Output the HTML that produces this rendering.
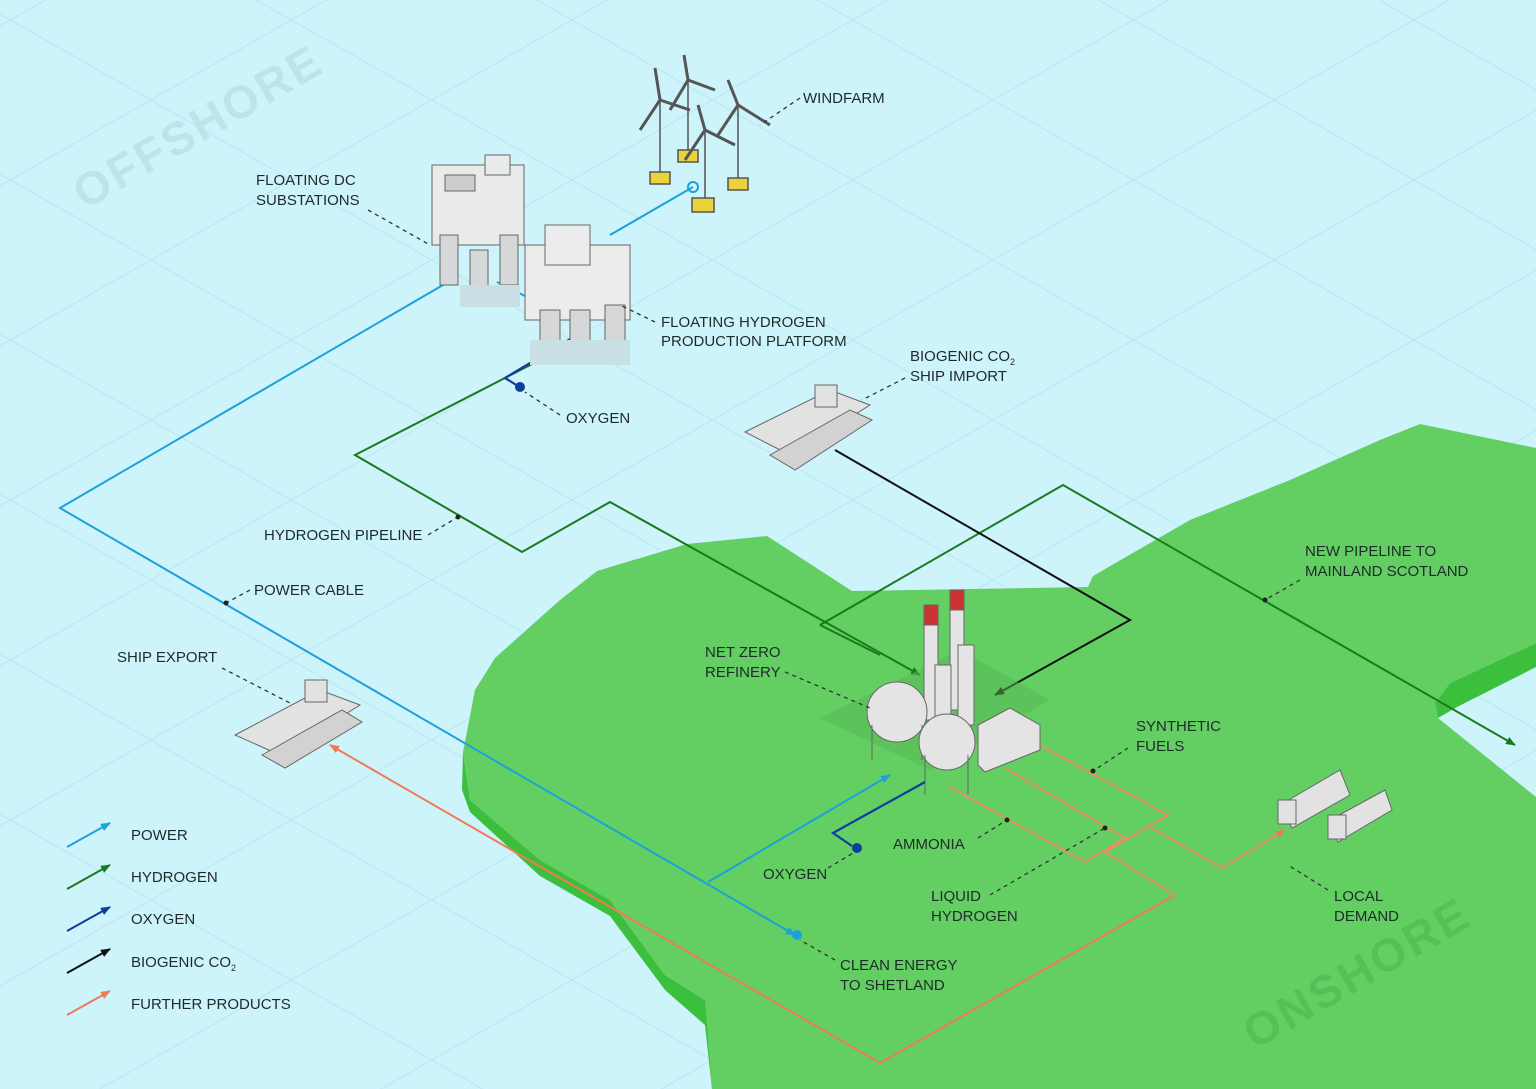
<!DOCTYPE html>
<html><head><meta charset="utf-8"><style>
html,body{margin:0;padding:0;background:#cdf3fb;width:1536px;height:1089px;overflow:hidden;}
svg{display:block;}
text{font-family:"Liberation Sans",sans-serif;font-size:15px;fill:#1f2a2a;}
.lead{stroke:#333;stroke-width:1.3;stroke-dasharray:4 4;fill:none;}
.dot{fill:#222;}
.wm{font-size:46px;fill:#bfe3ea;font-weight:bold;letter-spacing:3px;}
.wm2{font-size:46px;fill:#58bf58;font-weight:bold;letter-spacing:3px;}
</style></head><body>
<svg width="1536" height="1089" viewBox="0 0 1536 1089" xmlns="http://www.w3.org/2000/svg">
<defs>
<marker id="aB" markerWidth="10" markerHeight="8" refX="9" refY="4" orient="auto" markerUnits="userSpaceOnUse"><path d="M0,0 L10,4 L0,8 z" fill="#1ea0dc"/></marker>
<marker id="aG" markerWidth="10" markerHeight="8" refX="9" refY="4" orient="auto" markerUnits="userSpaceOnUse"><path d="M0,0 L10,4 L0,8 z" fill="#1b7a1b"/></marker>
<marker id="aK" markerWidth="10" markerHeight="8" refX="9" refY="4" orient="auto" markerUnits="userSpaceOnUse"><path d="M0,0 L10,4 L0,8 z" fill="#111"/></marker>
<marker id="aD" markerWidth="10" markerHeight="8" refX="9" refY="4" orient="auto" markerUnits="userSpaceOnUse"><path d="M0,0 L10,4 L0,8 z" fill="#0b3f9a"/></marker>
<marker id="aO" markerWidth="10" markerHeight="8" refX="9" refY="4" orient="auto" markerUnits="userSpaceOnUse"><path d="M0,0 L10,4 L0,8 z" fill="#f07a55"/></marker>
</defs>
<rect width="1536" height="1089" fill="#cdf3fb"/>
<g stroke="#bce9f1" stroke-width="1.2">
<line x1="-200" y1="-100" x2="1800" y2="1040"/><line x1="-200" y1="60" x2="1800" y2="1200"/>
<line x1="-200" y1="220" x2="1800" y2="1360"/><line x1="-200" y1="380" x2="1800" y2="1520"/>
<line x1="-200" y1="540" x2="1800" y2="1680"/><line x1="-200" y1="700" x2="1800" y2="1840"/>
<line x1="-200" y1="-260" x2="1800" y2="880"/><line x1="-200" y1="-420" x2="1800" y2="720"/>
<line x1="-200" y1="-580" x2="1800" y2="560"/><line x1="-200" y1="-740" x2="1800" y2="400"/>
<line x1="-200" y1="-900" x2="1800" y2="240"/>
<line x1="-200" y1="140" x2="1800" y2="-1000"/><line x1="-200" y1="300" x2="1800" y2="-840"/>
<line x1="-200" y1="460" x2="1800" y2="-680"/><line x1="-200" y1="620" x2="1800" y2="-520"/>
<line x1="-200" y1="780" x2="1800" y2="-360"/><line x1="-200" y1="940" x2="1800" y2="-200"/>
<line x1="-200" y1="1100" x2="1800" y2="-40"/><line x1="-200" y1="1260" x2="1800" y2="120"/>
<line x1="-200" y1="1420" x2="1800" y2="280"/><line x1="-200" y1="1580" x2="1800" y2="440"/>
<line x1="-200" y1="1740" x2="1800" y2="600"/><line x1="-200" y1="1900" x2="1800" y2="760"/>
</g>
<text class="wm" transform="translate(85,210) rotate(-30)">OFFSHORE</text>
<!-- land edges -->
<path d="M463,752 L462,790 L470,812 L540,876 L610,916 L665,990 L705,1025 L712,1089 L760,1089 L705,1000 L665,975 L610,900 L540,860 L470,800 Z" fill="#3cbf3c"/>
<path d="M1435,703 L1450,683 L1536,643 L1536,667 L1457,707 L1438,718 Z" fill="#3cbf3c"/>
<path d="M687,544 L767,536 L852,591 L1088,587 L1093,576 L1190,520 L1290,480 L1380,440 L1420,424 L1536,448 L1536,643 L1450,683 L1435,703 L1438,718 L1536,797 L1536,1089 L712,1089 L705,1000 L665,975 L610,900 L540,860 L470,800 L463,752 L475,690 L495,658 L560,600 L597,571 Z" fill="#63cf63"/>
<text class="wm2" transform="translate(1255,1050) rotate(-30)">ONSHORE</text>
<!-- connectors -->
<g fill="none" stroke-width="2">
<polyline points="693,187 610,235" stroke="#1ea0dc"/>
<polyline points="455,278 60,508 795,935" stroke="#1ea0dc" marker-end="url(#aB)"/>
<line x1="497" y1="282" x2="535" y2="301" stroke="#1ea0dc"/>
<polyline points="708,882 890,775" stroke="#1ea0dc" marker-end="url(#aB)"/>
<polyline points="575,342 355,455 522,552 610,502 920,675" stroke="#1b7a1b" marker-end="url(#aG)"/>
<polyline points="820,625 1063,485 1515,745" stroke="#1b7a1b" marker-end="url(#aG)"/>
<polyline points="820,625 880,655" stroke="#1b7a1b"/>
<polyline points="835,450 1130,620 995,695" stroke="#111" marker-end="url(#aK)"/>
<polyline points="572,338 505,378 518,386" stroke="#0b3f9a" stroke-width="2.2"/>
<polyline points="925,782 833,833 852,846" stroke="#0b3f9a" stroke-width="2.2"/>
<polyline points="1175,895 880,1063 330,745" stroke="#f07a55" marker-end="url(#aO)"/>
<polyline points="1040,745 1168,815 1105,852 1175,895" stroke="#e89060"/>
<polyline points="950,787 1085,862 1125,838 1005,768" stroke="#e89060"/>
<polyline points="1150,827 1222,868 1285,830" stroke="#e89060" marker-end="url(#aO)"/>
</g>
<circle cx="520" cy="387" r="5" fill="#0b3f9a"/>
<circle cx="857" cy="848" r="5" fill="#0b3f9a"/>
<circle cx="797" cy="935" r="5" fill="#1ea0dc"/>
<circle cx="693" cy="187" r="5" fill="none" stroke="#1ea0dc" stroke-width="2"/>
<!-- windfarm -->
<g stroke="#555" stroke-width="1.5" fill="#fff">
<g><line x1="660" y1="178" x2="660" y2="100"/><path d="M660,100 L640,130 M660,100 L690,110 M660,100 L655,68" stroke="#555" stroke-width="3"/><rect x="650" y="172" width="20" height="12" fill="#e8d43a"/></g>
<g><line x1="688" y1="155" x2="688" y2="80"/><path d="M688,80 L670,110 M688,80 L715,90 M688,80 L684,55" stroke-width="3"/><rect x="678" y="150" width="20" height="12" fill="#e8d43a"/></g>
<g><line x1="738" y1="185" x2="738" y2="105"/><path d="M738,105 L718,135 M738,105 L770,125 M738,105 L728,80" stroke-width="3"/><rect x="728" y="178" width="20" height="12" fill="#e8d43a"/></g>
<g><line x1="705" y1="205" x2="705" y2="130"/><path d="M705,130 L685,160 M705,130 L735,145 M705,130 L698,105" stroke-width="3"/><rect x="692" y="198" width="22" height="14" fill="#e8d43a"/></g>
</g>
<!-- substation -->
<g stroke="#666" stroke-width="1" fill="#e9eaea">
<rect x="432" y="165" width="92" height="80"/>
<rect x="440" y="235" width="18" height="50" fill="#d5d7d8"/><rect x="500" y="235" width="18" height="50" fill="#d5d7d8"/>
<rect x="470" y="250" width="18" height="55" fill="#d5d7d8"/>
<rect x="445" y="175" width="30" height="16" fill="#ccc"/>
<rect x="485" y="155" width="25" height="20"/>
<rect x="460" y="285" width="60" height="22" fill="#c8dfe4" stroke="none"/>
</g>
<!-- hydrogen platform -->
<g stroke="#666" stroke-width="1" fill="#ececec">
<rect x="525" y="245" width="105" height="75"/>
<rect x="545" y="225" width="45" height="40"/>
<rect x="540" y="310" width="20" height="40" fill="#d5d7d8"/><rect x="570" y="310" width="20" height="45" fill="#d5d7d8"/><rect x="605" y="305" width="20" height="40" fill="#d5d7d8"/>
<rect x="530" y="340" width="100" height="25" fill="#c8dfe4" stroke="none"/>
</g>
<!-- ships -->
<g stroke="#666" stroke-width="1" fill="#e2e2e2">
<path d="M745,432 L830,390 L870,405 L790,455 Z"/><path d="M770,455 L850,410 L872,420 L795,470 Z" fill="#d2d2d2"/>
<rect x="815" y="385" width="22" height="22"/>
<path d="M235,735 L320,690 L360,705 L280,755 Z"/><path d="M262,755 L342,710 L362,722 L285,768 Z" fill="#d2d2d2"/>
<rect x="305" y="680" width="22" height="22"/>
</g>
<!-- refinery -->
<g stroke="#666" stroke-width="1" fill="#e4e4e4">
<path d="M820,718 L960,650 L1050,700 L930,770 Z" fill="#55b855" stroke="none" opacity="0.5"/>
<rect x="924" y="605" width="14" height="115"/><rect x="924" y="605" width="14" height="20" fill="#c33"/>
<rect x="950" y="590" width="14" height="120"/><rect x="950" y="590" width="14" height="20" fill="#c33"/>
<rect x="935" y="665" width="16" height="70"/><rect x="958" y="645" width="16" height="80"/>
<path d="M978,725 L1010,708 L1040,725 L1040,750 L985,772 L978,765 Z"/>
<circle cx="897" cy="712" r="30"/><line x1="872" y1="725" x2="872" y2="760"/><line x1="922" y1="725" x2="922" y2="760"/>
<circle cx="947" cy="742" r="28"/><line x1="925" y1="755" x2="925" y2="795"/><line x1="968" y1="755" x2="968" y2="795"/>
</g>
<!-- trucks -->
<g stroke="#666" stroke-width="1" fill="#e2e2e2">
<path d="M1280,805 L1340,770 L1350,795 L1292,828 Z"/><rect x="1278" y="800" width="18" height="24"/>
<path d="M1330,820 L1385,790 L1392,810 L1338,842 Z"/><rect x="1328" y="815" width="18" height="24"/>
</g>
<!-- labels -->
<text x="803" y="103">WINDFARM</text><path class="lead" d="M800,98 L760,125"/>
<text x="256" y="185">FLOATING DC</text><text x="256" y="205">SUBSTATIONS</text><path class="lead" d="M368,210 L430,245"/>
<text x="661" y="327">FLOATING HYDROGEN</text><text x="661" y="346">PRODUCTION PLATFORM</text><path class="lead" d="M655,322 L620,305"/>
<text x="910" y="361">BIOGENIC CO<tspan font-size="9" dy="4">2</tspan></text><text x="910" y="381">SHIP IMPORT</text><path class="lead" d="M905,378 L862,400"/>
<text x="566" y="423">OXYGEN</text><path class="lead" d="M560,415 L525,392"/>
<text x="264" y="540">HYDROGEN PIPELINE</text><path class="lead" d="M428,535 L458,517"/><circle class="dot" cx="458" cy="517" r="2.5"/>
<text x="254" y="595">POWER CABLE</text><path class="lead" d="M250,590 L226,603"/><circle class="dot" cx="226" cy="603" r="2.5"/>
<text x="117" y="662">SHIP EXPORT</text><path class="lead" d="M222,668 L290,703"/>
<text x="1305" y="556">NEW PIPELINE TO</text><text x="1305" y="576">MAINLAND SCOTLAND</text><path class="lead" d="M1300,580 L1265,600"/><circle class="dot" cx="1265" cy="600" r="2.5"/>
<text x="705" y="657">NET ZERO</text><text x="705" y="677">REFINERY</text><path class="lead" d="M785,672 L870,708"/>
<text x="1136" y="731">SYNTHETIC</text><text x="1136" y="751">FUELS</text><path class="lead" d="M1128,748 L1093,771"/><circle class="dot" cx="1093" cy="771" r="2.5"/>
<text x="893" y="849">AMMONIA</text><path class="lead" d="M978,838 L1007,820"/><circle class="dot" cx="1007" cy="820" r="2.5"/>
<text x="763" y="879">OXYGEN</text><path class="lead" d="M828,868 L855,852"/>
<text x="931" y="901">LIQUID</text><text x="931" y="921">HYDROGEN</text><path class="lead" d="M990,895 L1105,828"/><circle class="dot" cx="1105" cy="828" r="2.5"/>
<text x="1334" y="901">LOCAL</text><text x="1334" y="921">DEMAND</text><path class="lead" d="M1328,890 L1288,865"/>
<text x="840" y="970">CLEAN ENERGY</text><text x="840" y="990">TO SHETLAND</text><path class="lead" d="M835,960 L800,940"/>
<!-- legend -->
<g stroke-width="2" fill="none">
<line x1="67" y1="847" x2="110" y2="823" stroke="#1ea0dc" marker-end="url(#aB)"/>
<line x1="67" y1="889" x2="110" y2="865" stroke="#1b7a1b" marker-end="url(#aG)"/>
<line x1="67" y1="931" x2="110" y2="907" stroke="#0b3f9a" marker-end="url(#aD)"/>
<line x1="67" y1="973" x2="110" y2="949" stroke="#111" marker-end="url(#aK)"/>
<line x1="67" y1="1015" x2="110" y2="991" stroke="#f07a55" marker-end="url(#aO)"/>
</g>
<text x="131" y="840">POWER</text>
<text x="131" y="882">HYDROGEN</text>
<text x="131" y="924">OXYGEN</text>
<text x="131" y="967">BIOGENIC CO<tspan font-size="9" dy="4">2</tspan></text>
<text x="131" y="1009">FURTHER PRODUCTS</text>
</svg>
</body></html>
